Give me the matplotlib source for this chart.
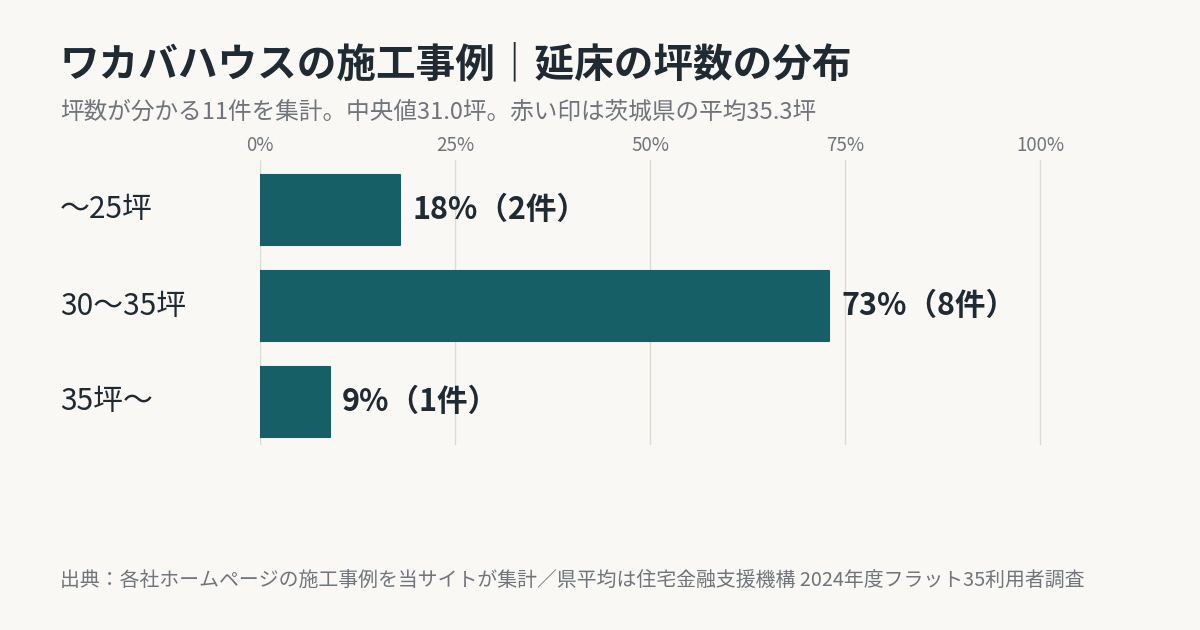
import matplotlib
matplotlib.use("Agg")
import matplotlib.pyplot as plt

plt.rcParams["font.family"] = ["Noto Sans CJK JP", "DejaVu Sans"]

categories = ["〜25坪", "30〜35坪", "35坪〜"]
shares = [18, 73, 9]
counts = [2, 8, 1]
ticks = [0, 25, 50, 75, 100]

BG = "#f9f8f5"
BAR = "#175f66"
DARK = "#1f2a33"
GRAY = "#6f757a"

fig = plt.figure(figsize=(12, 6.3), dpi=100, facecolor=BG)
ax = fig.add_axes([260 / 1200, 1 - 445 / 630, 782 / 1200, 285 / 630])
ax.set_facecolor(BG)

ypos = list(range(len(categories)))
ax.barh(ypos, shares, height=0.73, color=BAR, edgecolor=BAR, linewidth=1.5,
        joinstyle="round", zorder=3)
for y, s, c in zip(ypos, shares, counts):
    ax.text(s + 1.5, y, f"{s}%（{c}件）", va="center", ha="left",
            fontsize=22, fontweight="bold", color=DARK)

ax.set_xlim(0, 100.25)
ax.set_ylim(2.45, -0.52)
ax.set_xticks(ticks)
ax.set_xticklabels([f"{t}%" for t in ticks])
ax.xaxis.tick_top()
ax.tick_params(axis="x", length=0, labelsize=13.5, labelcolor=GRAY, pad=3)
ax.set_yticks([])
ax.grid(axis="x", color="#dddbd6", linewidth=1, zorder=0)
for sp in ax.spines.values():
    sp.set_visible(False)

for y, cat in zip(ypos, categories):
    fig.text(60 / 1200, 1 - (210 + 96 * y) / 630, cat, ha="left", va="center",
             fontsize=21.5, color=DARK)

fig.text(60 / 1200, 1 - 65 / 630, "ワカバハウスの施工事例｜延床の坪数の分布",
         ha="left", va="center", fontsize=28.5, fontweight="bold", color=DARK)
fig.text(60 / 1200, 1 - 112 / 630,
         "坪数が分かる11件を集計。中央値31.0坪。赤い印は茨城県の平均35.3坪",
         ha="left", va="center", fontsize=17, color=GRAY)
fig.text(60 / 1200, 1 - 580 / 630,
         "出典：各社ホームページの施工事例を当サイトが集計／県平均は住宅金融支援機構 2024年度フラット35利用者調査",
         ha="left", va="center", fontsize=14.3, color=GRAY)

fig.savefig("out.png", dpi=100, facecolor=BG)
